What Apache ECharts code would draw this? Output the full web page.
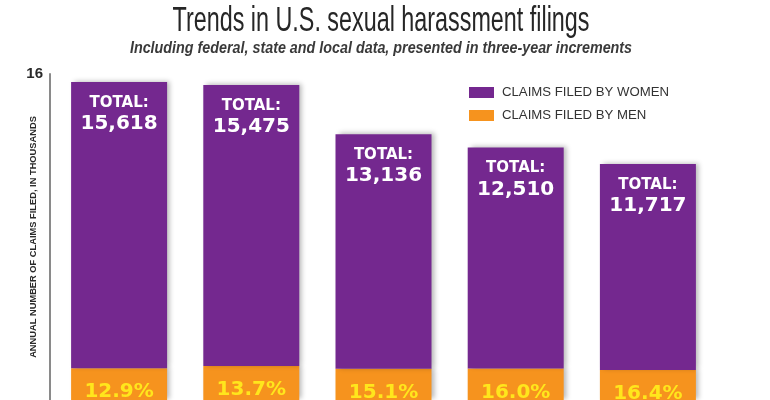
<!DOCTYPE html>
<html>
<head>
<meta charset="utf-8">
<script src="https://cdn.jsdelivr.net/npm/echarts@6/dist/echarts.min.js"></script>
<style>
  html, body { margin: 0; padding: 0; background: #fff; }
  #chart { width: 770px; height: 400px; }
</style>
</head>
<body>
<div id="chart"></div>
<script>
// fiscal years, one per three-year step
const years = ['1998', '2001', '2004', '2007', '2010']
const totals = [15618, 15475, 13136, 12510, 11717]
const menShare = ['12.9%', '13.7%', '15.1%', '16.0%', '16.4%']
const menClaims = [2015, 2120, 1984, 2002, 1922]
const womenClaims = [13603, 13355, 11152, 10508, 9795]
// the picture is cut off just above zero
const yMin = 500
const yMax = 16000
const yLabels = [16000]

const purple = '#74288f'
const orange = '#f6931e'
const sans = '"Liberation Sans", Arial, sans-serif'
const heavy = '"DejaVu Sans", sans-serif'

const barShadow = {
  shadowColor: 'rgba(0,0,0,0.28)',
  shadowBlur: 5,
  shadowOffsetX: 3,
  shadowOffsetY: -1
}

const chart = echarts.init(document.getElementById('chart'))

chart.setOption({
  animation: false,
  graphic: [
    {
      type: 'text',
      x: 381, y: 21,
      scaleX: 0.667,
      style: {
        text: 'Trends in U.S. sexual harassment filings',
        font: '35px ' + sans,
        fill: '#262626',
        textAlign: 'center',
        textVerticalAlign: 'middle'
      }
    },
    {
      type: 'text',
      x: 381, y: 49,
      scaleX: 0.895,
      style: {
        text: 'Including federal, state and local data, presented in three-year increments',
        font: 'italic bold 16px ' + sans,
        fill: '#3a3a3a',
        textAlign: 'center',
        textVerticalAlign: 'middle'
      }
    }
  ],
  legend: {
    data: ['CLAIMS FILED BY WOMEN', 'CLAIMS FILED BY MEN'],
    orient: 'vertical',
    left: 464,
    top: 81,
    itemWidth: 25,
    itemHeight: 11,
    itemGap: 10,
    icon: 'rect',
    textStyle: { fontFamily: sans, fontSize: 13.2, lineHeight: 11, color: '#333', padding: [0, 0, 0, 3] }
  },
  grid: { left: 53, right: 56, top: 74, bottom: 0 },
  xAxis: {
    type: 'category',
    data: years,
    axisLine: { show: false },
    axisTick: { show: false },
    axisLabel: { show: false }
  },
  yAxis: {
    type: 'value',
    min: yMin,
    max: yMax,
    offset: 3,
    splitLine: { show: false },
    axisLine: { show: true, lineStyle: { color: '#8a8a8a', width: 2 } },
    axisTick: { show: false },
    axisLabel: {
      customValues: yLabels,
      formatter: v => String(v / 1000),
      fontFamily: sans,
      fontWeight: 'bold',
      fontSize: 15,
      color: '#2a2a2a',
      margin: 7
    },
    name: 'ANNUAL NUMBER OF CLAIMS FILED, IN THOUSANDS',
    nameLocation: 'middle',
    nameRotate: 90,
    nameGap: 12,
    nameMoveOverlap: false,
    nameTextStyle: { fontFamily: sans, fontWeight: 'bold', fontSize: 9.3, color: '#2a2a2a' }
  },
  series: [
    {
      name: 'CLAIMS FILED BY MEN',
      type: 'bar',
      stack: 'claims',
      barWidth: 96,
      data: menClaims,
      itemStyle: Object.assign({ color: orange }, barShadow),
      label: {
        show: true,
        position: 'insideTop',
        distance: 14,
        formatter: p => menShare[p.dataIndex],
        fontFamily: heavy,
        fontWeight: 'bold',
        fontSize: 20,
        color: '#ffe61c'
      }
    },
    {
      name: 'CLAIMS FILED BY WOMEN',
      type: 'bar',
      stack: 'claims',
      barWidth: 96,
      data: womenClaims,
      itemStyle: Object.assign({ color: purple }, barShadow),
      label: {
        show: true,
        position: 'insideTop',
        distance: 11,
        formatter: p => '{a|TOTAL:}\n{b|' + totals[p.dataIndex].toLocaleString('en-US') + '}',
        rich: {
          a: { fontFamily: heavy, fontWeight: 'bold', fontSize: 15, lineHeight: 20, color: '#fff' },
          b: { fontFamily: heavy, fontWeight: 'bold', fontSize: 20, lineHeight: 22, color: '#fff' }
        }
      }
    }
  ]
})

window.addEventListener('resize', () => chart.resize())
</script>
</body>
</html>
